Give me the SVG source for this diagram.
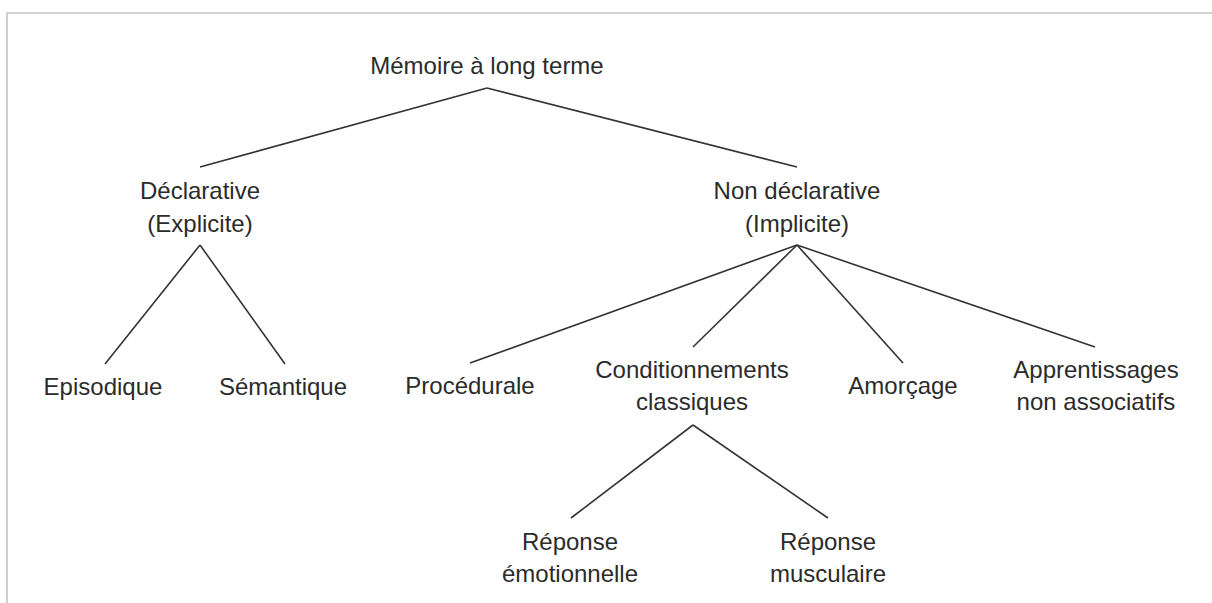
<svg xmlns="http://www.w3.org/2000/svg" width="1212" height="603" viewBox="0 0 1212 603">
<style>
.t{font-family:"Liberation Sans",Arial,sans-serif;font-size:24px;fill:#2b2b2b;text-anchor:middle}
.c line{stroke:#333;stroke-width:1.6}
.f{stroke:#c4c4c4;stroke-width:1.6;fill:none}
</style>
<rect width="1212" height="603" fill="#fff"/>
<path class="f" d="M7,603 V13 H1212"/>
<g class="c" id="connectors">
<line x1="487" y1="88" x2="200" y2="167"/>
<line x1="487" y1="88" x2="797" y2="167"/>
<line x1="200" y1="245" x2="105" y2="364"/>
<line x1="200" y1="245" x2="285" y2="364"/>
<line x1="797" y1="245" x2="470" y2="363"/>
<line x1="797" y1="245" x2="693" y2="347"/>
<line x1="797" y1="245" x2="903" y2="363"/>
<line x1="797" y1="245" x2="1095" y2="347"/>
<line x1="693" y1="425" x2="571" y2="518"/>
<line x1="693" y1="425" x2="828" y2="518"/>
</g>
<g id="n-root"><text class="t" x="487" y="74">Mémoire à long terme</text></g>
<g id="n-declarative"><text class="t" x="200" y="199">Déclarative</text><text class="t" x="200" y="232">(Explicite)</text></g>
<g id="n-nondeclarative"><text class="t" x="797" y="199">Non déclarative</text><text class="t" x="797" y="232">(Implicite)</text></g>
<g id="n-episodique"><text class="t" x="103" y="395">Episodique</text></g>
<g id="n-semantique"><text class="t" x="283" y="395">Sémantique</text></g>
<g id="n-procedurale"><text class="t" x="470" y="394">Procédurale</text></g>
<g id="n-conditionnements"><text class="t" x="692" y="378">Conditionnements</text><text class="t" x="692" y="410">classiques</text></g>
<g id="n-amorcage"><text class="t" x="903" y="394">Amorçage</text></g>
<g id="n-apprentissages"><text class="t" x="1096" y="378">Apprentissages</text><text class="t" x="1096" y="410">non associatifs</text></g>
<g id="n-emotionnelle"><text class="t" x="570" y="550">Réponse</text><text class="t" x="570" y="582">émotionnelle</text></g>
<g id="n-musculaire"><text class="t" x="828" y="550">Réponse</text><text class="t" x="828" y="582">musculaire</text></g>
</svg>
